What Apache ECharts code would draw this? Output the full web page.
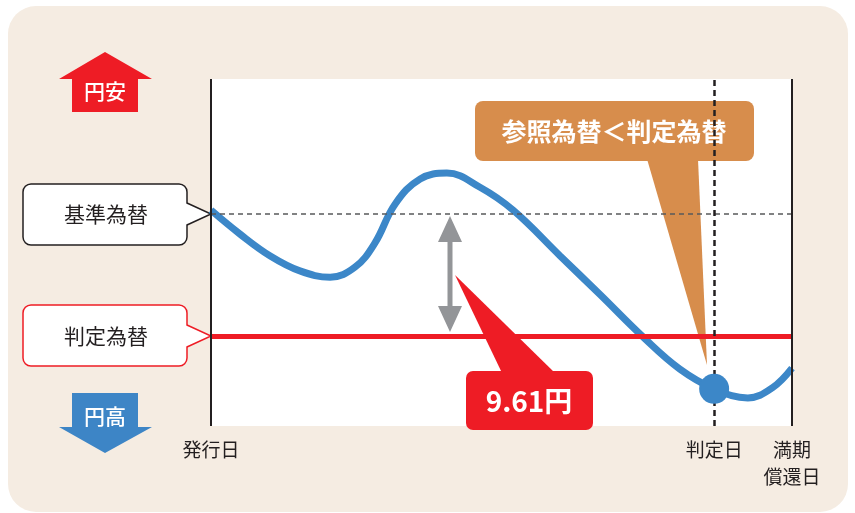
<!DOCTYPE html>
<html>
<head>
<meta charset="utf-8">
<script src="https://cdn.jsdelivr.net/npm/echarts@6/dist/echarts.min.js"></script>
<style>
  html, body { margin: 0; padding: 0; background: #fff; }
  #panel { position: absolute; left: 8px; top: 6px; width: 840px; height: 506px; background: #f5ece2; border-radius: 28px; }
  #Chart { position: absolute; left: 0; top: 0; width: 855px; height: 513px; }
</style>
</head>
<body>
<div id="panel"></div>
<div id="Chart"></div>
<script>
// 時間軸（発行日=0、満期償還日=100）と参照為替の推移（模式図）
const timeAxis = [0, 5.0, 10.2, 15.3, 20.5, 24.8, 28.2, 31.7, 36.0, 40.6, 46.3, 52.0, 60.1, 67.0, 74.4, 80.7, 86.6, 92.4, 96.6, 100]
const refRate = [62.2, 55.3, 49.0, 44.7, 42.9, 45.8, 52.7, 64.0, 71.2, 72.9, 68.8, 62.2, 49.0, 37.8, 25.6, 16.4, 10.7, 8.1, 11.0, 16.7]
const baseRate = 61.1 // 基準為替
const strikeRate = 25.9 // 判定為替
const judgeDay = 86.6 // 判定日
const judgeRate = 10.7 // 判定日の参照為替
const tickValues = [0, judgeDay, 100]
const tickLabels = ["発行日", "判定日", "満期\n償還日"]

const font = "\"Noto Sans CJK JP\", \"Noto Sans\", sans-serif"
const chart = echarts.init(document.getElementById("Chart"), null, { renderer: "canvas" })

const poly = (points, fill) => ({ type: "polygon", shape: { points }, style: { fill } })
const box = (x, y, width, height, r, fill, stroke) => ({
  type: "rect",
  shape: { x, y, width, height, r },
  style: { fill, stroke: stroke || null, lineWidth: stroke ? 1.5 : 0 }
})
const edge = (points, stroke) => ({ type: "polyline", shape: { points }, style: { stroke, fill: null, lineWidth: 1.5 } })
const label = (x, y, text, size, color, weight) => ({
  type: "text",
  x, y,
  style: { text, fill: color, font: (weight || "normal") + " " + size + "px " + font, align: "center", verticalAlign: "middle" }
})
// 左側の吹き出し（枠線つき）
const sideCallout = (y0, y1, tipY, stroke, text) => [
  box(23, y0, 164, y1 - y0, 8, "#fff", stroke),
  poly([[185, tipY - 11], [211, tipY], [185, tipY + 11]], "#fff"),
  edge([[187, tipY - 11], [211, tipY], [187, tipY + 11]], stroke),
  label(106, tipY, text, 21, "#231f20")
]

let option = {
  animation: false,
  backgroundColor: "transparent",
  textStyle: { fontFamily: font },
  grid: {
    left: 211, top: 79, width: 581, height: 347,
    show: true, backgroundColor: "#fff", borderWidth: 0
  },
  xAxis: {
    type: "value", min: 0, max: 100,
    splitLine: { show: false },
    axisLine: { show: false },
    axisTick: { show: false },
    axisLabel: {
      customValues: tickValues,
      formatter: (v) => tickLabels[tickValues.indexOf(v)] || "",
      color: "#231f20", fontSize: 19, lineHeight: 27, margin: 10,
      verticalAlign: "top", fontFamily: font
    }
  },
  yAxis: { type: "value", min: 0, max: 100, show: false },
  series: [
    {
      type: "line",
      data: [],
      z: 1,
      markLine: {
        silent: true,
        symbol: "none",
        label: { show: false },
        data: [
          { yAxis: baseRate, lineStyle: { color: "#58595b", width: 1.5, type: [5, 4] } },
          { yAxis: strikeRate, lineStyle: { color: "#ee1c25", width: 5, type: "solid" } },
          { xAxis: 0, lineStyle: { color: "#231f20", width: 2, type: "solid" } },
          { xAxis: 100, lineStyle: { color: "#231f20", width: 2, type: "solid" } },
          { xAxis: judgeDay, lineStyle: { color: "#231f20", width: 2.5, type: [6, 4] } }
        ]
      }
    },
    {
      name: "参照為替",
      type: "line",
      z: 3,
      smooth: 0.4,
      showSymbol: false,
      lineStyle: { color: "#3c87c8", width: 7 },
      data: timeAxis.map((t, i) => [t, refRate[i]])
    },
    {
      type: "scatter",
      z: 5,
      symbolSize: 30,
      itemStyle: { color: "#3c87c8", opacity: 1 },
      data: [[judgeDay, judgeRate]]
    }
  ],
  graphic: [
    // 円安・円高の矢印
    poly([[105, 52], [152, 79], [138, 79], [138, 112], [72, 112], [72, 79], [59, 79]], "#ee1c25"),
    label(105, 91, "円安", 21, "#fff", "500"),
    poly([[72, 393], [138, 393], [138, 427], [152, 427], [105, 453], [59, 427], [72, 427]], "#3d85c6"),
    label(105, 416, "円高", 21, "#fff", "500"),
    ...sideCallout(184, 245, 214, "#231f20", "基準為替"),
    ...sideCallout(305, 366, 336, "#ee1c25", "判定為替"),
    // 差の矢印
    poly([[450, 216], [462, 242], [452.5, 242], [452.5, 306], [462, 306], [450, 332], [438, 306], [447.5, 306], [447.5, 242], [438, 242]], "#939598"),
    // 9.61円
    poly([[502, 373], [455, 275], [555, 373]], "#ee1c25"),
    box(466, 371, 127, 59, 7, "#ee1c25"),
    label(529, 401, "9.61円", 28, "#fff", "bold"),
    // 参照為替＜判定為替
    poly([[647, 159], [707, 365], [698, 159]], "#d78d4c"),
    box(475, 101, 279, 60, 8, "#d78d4c"),
    label(614, 131, "参照為替＜判定為替", 25, "#fff", "bold")
  ]
}
chart.setOption(option)
</script>
</body>
</html>
